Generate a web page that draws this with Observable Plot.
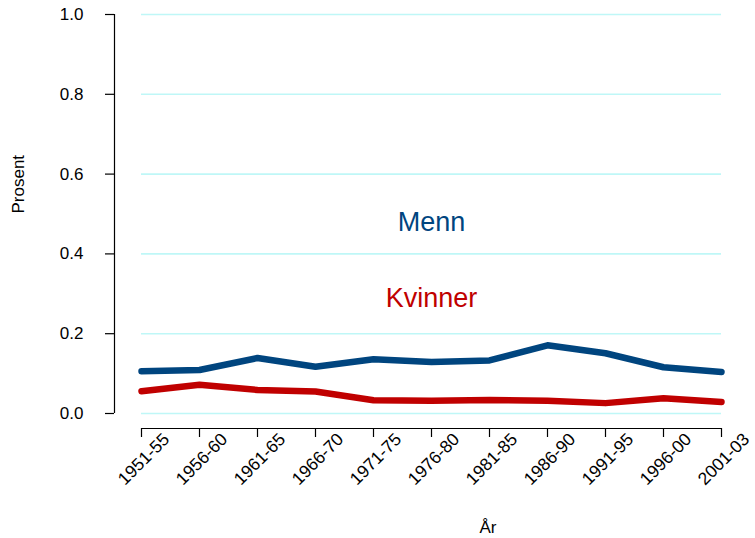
<!DOCTYPE html>
<html>
<head>
<meta charset="utf-8">
<script src="https://cdn.jsdelivr.net/npm/d3@7"></script>
<script src="https://cdn.jsdelivr.net/npm/@observablehq/plot@0.6"></script>
<style>
  html, body { margin: 0; padding: 0; background: #fff; }
  #chart svg { display: block; }
</style>
</head>
<body>
<div id="chart"></div>
<script>
const periods = ["1951-55","1956-60","1961-65","1966-70","1971-75","1976-80","1981-85","1986-90","1991-95","1996-00","2001-03"];
const menn    = [0.106, 0.109, 0.139, 0.117, 0.136, 0.129, 0.133, 0.171, 0.151, 0.116, 0.104];
const kvinner = [0.056, 0.072, 0.059, 0.055, 0.033, 0.032, 0.034, 0.032, 0.026, 0.038, 0.029];
const yTicks  = [0, 0.2, 0.4, 0.6, 0.8, 1.0];
const seriesLabels = [
  {name: "Menn", period: "1976-80", y: 0.48, color: "#00457f"},
  {name: "Kvinner", period: "1976-80", y: 0.288, color: "#c00000"}
];

const rows = [];
periods.forEach((p, i) => {
  rows.push({period: p, value: menn[i], series: "Menn"});
  rows.push({period: p, value: kvinner[i], series: "Kvinner"});
});

const first = periods[0];
const last = periods[periods.length - 1];
const font = "Liberation Sans, Arial, Helvetica, sans-serif";

const chart = Plot.plot({
  width: 755,
  height: 538,
  marginLeft: 114,
  marginRight: 34,
  marginTop: 14,
  marginBottom: 110,
  insetLeft: 27,
  insetBottom: 15,
  style: {fontFamily: font, fontSize: "17px", color: "#000", background: "#fff", overflow: "visible"},
  x: {type: "point", domain: periods, padding: 0},
  y: {domain: [0, 1]},
  marks: [
    Plot.ruleY(yTicks, {x1: () => first, x2: () => last, stroke: "#bff7f7", strokeWidth: 1.6}),
    Plot.ruleX([first], {y1: 0, y2: 1, dx: -27, stroke: "#000", strokeWidth: 1.2}),
    Plot.ruleY([0], {x1: () => first, x2: () => last, dy: 15, stroke: "#000", strokeWidth: 1.2}),
    Plot.axisY({ticks: yTicks, tickFormat: d3.format(".1f"), tickSize: 9, tickPadding: 22, label: null, fontSize: 17, strokeWidth: 1.2}),
    Plot.axisX({tickSize: 9, text: null, label: null, strokeWidth: 1.2}),
    Plot.axisX({tickSize: 0, tickRotate: -45, tickPadding: 8, dx: 25, label: null, fontSize: 17.5}),
    Plot.line(rows, {x: "period", y: "value", z: "series",
      stroke: d => d.series === "Menn" ? seriesLabels[0].color : seriesLabels[1].color,
      strokeWidth: 6.5, strokeLinejoin: "round", strokeLinecap: "round"}),
    Plot.text(seriesLabels, {x: "period", y: "y", text: "name", fill: "color", fontSize: 27, textAnchor: "middle", lineAnchor: "middle"}),
    Plot.text(["År"], {frameAnchor: "bottom", text: d => d, dx: 70, dy: 104, fontSize: 17}),
    Plot.text(["Prosent"], {frameAnchor: "left", text: d => d, rotate: -90, dx: -96, dy: -8, fontSize: 17})
  ]
});
document.getElementById("chart").appendChild(chart);
</script>
</body>
</html>
